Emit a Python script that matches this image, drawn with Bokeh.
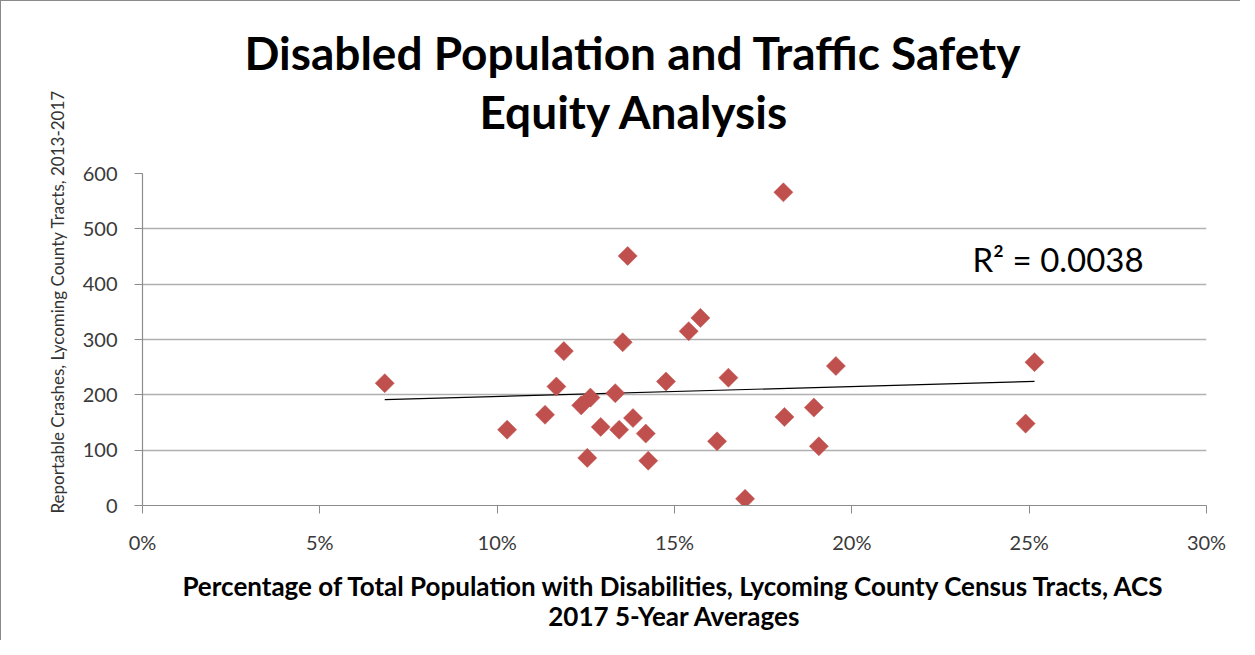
import numpy as np
from bokeh.plotting import figure
from bokeh.models import Label, FixedTicker, Range1d, Title
from bokeh.embed import file_html
from bokeh.resources import INLINE

# Percentage of population with disabilities (%)
disability_pct = [6.83, 10.28, 11.35, 11.67, 11.88, 12.37, 12.63, 12.54, 12.92, 13.33,
                  13.44, 13.54, 13.68, 13.83, 14.19, 14.26, 14.76, 15.40, 15.73, 16.20,
                  16.52, 16.99, 18.07, 18.10, 18.93, 19.07, 19.55, 24.90, 25.15]
# Reportable crashes 2013-2017
crashes = [221, 137, 164, 215, 279, 181, 195, 86, 142, 203,
           137, 295, 451, 158, 130, 81, 224, 315, 339, 116,
           231, 12, 566, 160, 177, 107, 252, 148, 259]

x_ticks = [0, 5, 10, 15, 20, 25, 30]
y_ticks = [0, 100, 200, 300, 400, 500, 600]

title_lines = ["Disabled Population and Traffic Safety", "Equity Analysis"]
x_title = "Percentage of Total Population with Disabilities, Lycoming County Census Tracts, ACS\n2017 5-Year Averages"
y_title = "Reportable Crashes, Lycoming County Tracts, 2013-2017"
r2_text = "R\u00b2 = 0.0038"

FONT = "Lato"

p = figure(width=1240, height=640, output_backend="svg", toolbar_location=None,
           x_range=Range1d(0, 30), y_range=Range1d(0, 600),
           min_border_left=141, min_border_right=35, min_border_top=172, min_border_bottom=136)
p.styles = {"border-left": "1px solid #8a8a8a", "border-top": "1px solid #8a8a8a"}

p.outline_line_color = None
p.xgrid.grid_line_color = None
p.ygrid.grid_line_color = "#b0b0b0"
p.ygrid.grid_line_width = 1.5

for ax in (p.xaxis, p.yaxis):
    ax.axis_line_color = "#8c8c8c"
    ax.axis_line_width = 1.2
    ax.major_tick_line_color = "#8c8c8c"
    ax.major_tick_out = 8
    ax.major_tick_in = 0
    ax.minor_tick_line_color = None
    ax.major_label_text_font = FONT
    ax.major_label_text_font_size = "20px"
    ax.major_label_text_color = "#3a3a3a"

p.xaxis.ticker = FixedTicker(ticks=x_ticks)
p.yaxis.ticker = FixedTicker(ticks=y_ticks)
p.xaxis.major_label_overrides = {t: f"{t}%" for t in x_ticks}
p.xaxis.major_label_standoff = 16
p.yaxis.major_label_standoff = 17

p.xaxis.axis_label = x_title
p.xaxis.axis_label_text_font = FONT
p.xaxis.axis_label_text_font_style = "bold"
p.xaxis.axis_label_text_font_size = "26px"
p.xaxis.axis_label_text_line_height = 0.95
p.xaxis.axis_label_text_color = "#000000"
p.xaxis.axis_label_standoff = 13

# regression trend line
slope, intercept = np.polyfit(disability_pct, crashes, 1)
tx = [min(disability_pct), max(disability_pct)]
ty = [slope * v + intercept for v in tx]
p.line(tx, ty, line_color="#000000", line_width=1.2)

p.scatter(disability_pct, crashes, marker="square", size=13.5, angle=np.pi / 4,
          fill_color="#C0504D", line_color="#C0504D", line_width=0.5)

# titles (first added is closest to the frame); a tiny blank title acts as a gap
p.add_layout(Title(text=" ", text_font_size="1px", standoff=32), "above")
p.add_layout(Title(text=title_lines[1], align="left", offset=337, text_font=FONT,
                   text_font_style="bold", text_font_size="46px", text_color="#000000",
                   standoff=0), "above")
p.add_layout(Title(text=title_lines[0], align="left", offset=102, text_font=FONT,
                   text_font_style="bold", text_font_size="46px", text_color="#000000",
                   standoff=4), "above")

p.add_layout(Title(text=y_title, align="left", offset=-8, text_font=FONT,
                   text_font_style="normal", text_font_size="17px", text_color="#333333",
                   standoff=24), "left")

p.add_layout(Label(x=23.4, y=446, text=r2_text, text_font=FONT, text_font_size="33px",
                   text_align="left", text_baseline="middle", text_color="#000000"))

open("out.html", "w").write(file_html(p, INLINE))
